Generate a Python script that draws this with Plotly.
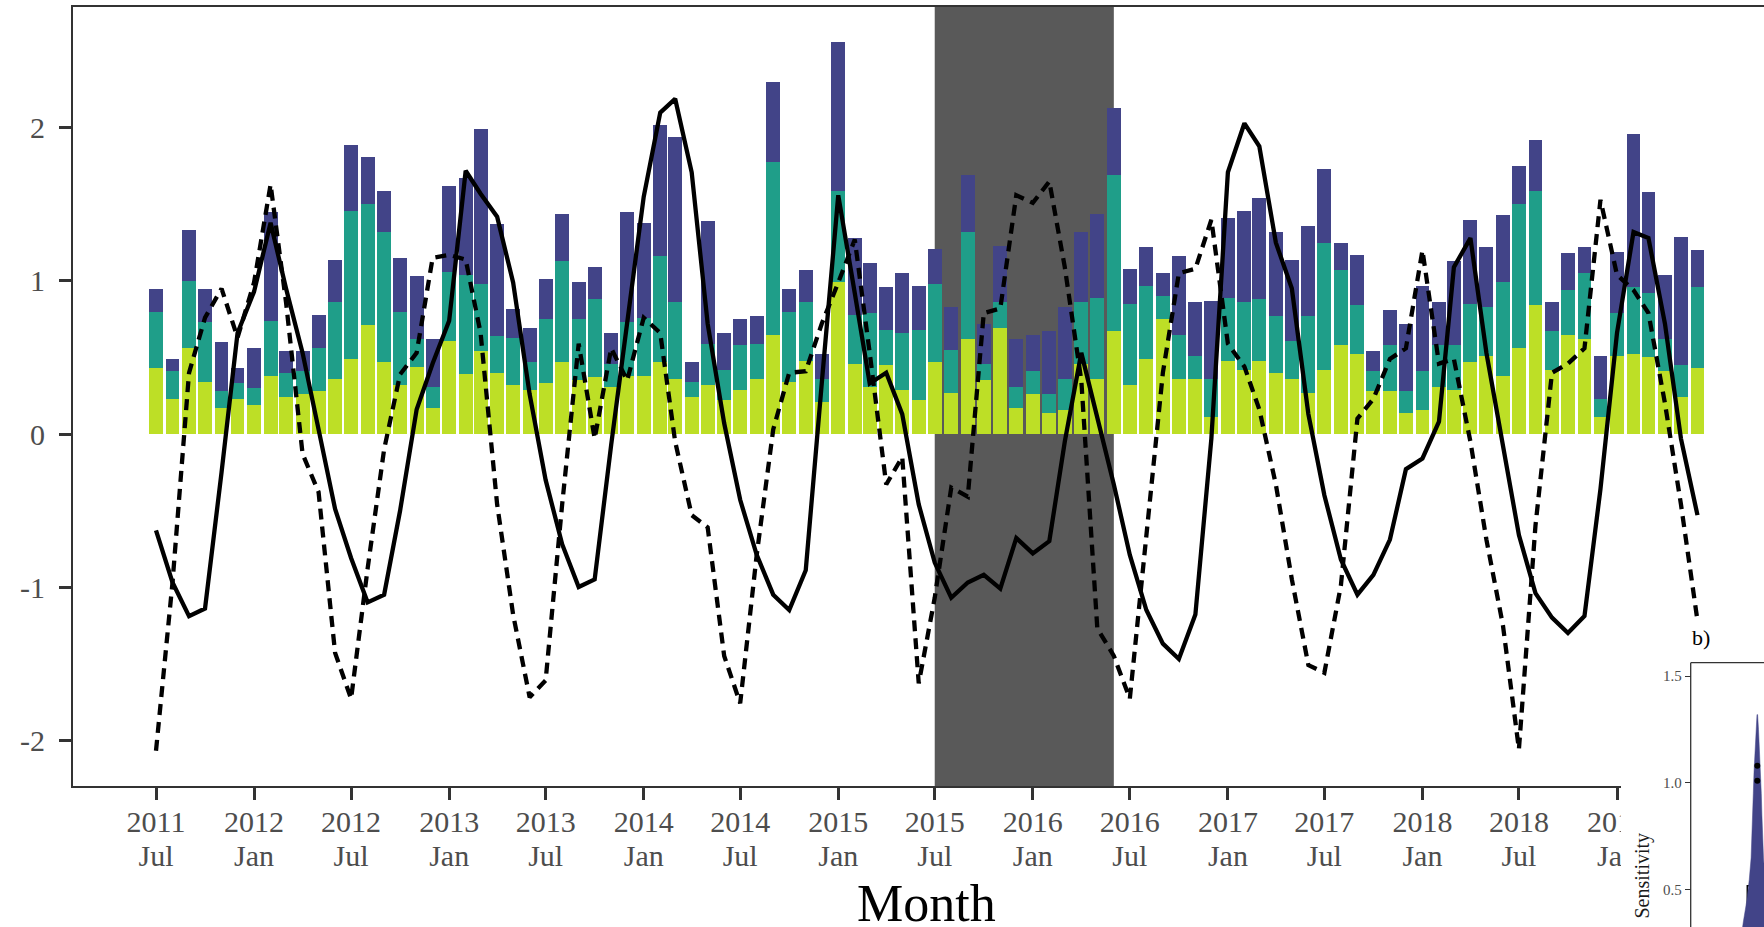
import pandas as pd
import plotly.graph_objects as go

# ---------------- data ----------------
months = pd.date_range("2011-07-01", periods=96, freq="MS")

# stacked bar segments (bottom: yellow-green, middle: teal, top: navy)
bar_low = [0.43, 0.23, 0.56, 0.34, 0.17, 0.23, 0.19, 0.38, 0.24, 0.26, 0.28, 0.36,
           0.49, 0.71, 0.47, 0.32, 0.44, 0.17, 0.61, 0.39, 0.54, 0.40, 0.32, 0.29,
           0.33, 0.47, 0.35, 0.37, 0.31, 0.38, 0.38, 0.47, 0.36, 0.24, 0.32, 0.22,
           0.29, 0.36, 0.65, 0.34, 0.48, 0.21, 0.99, 0.46, 0.31, 0.45, 0.29, 0.22,
           0.47, 0.27, 0.62, 0.35, 0.69, 0.17, 0.26, 0.14, 0.16, 0.46, 0.36, 0.67,
           0.32, 0.49, 0.75, 0.36, 0.36, 0.11, 0.48, 0.42, 0.48, 0.40, 0.36, 0.27,
           0.42, 0.58, 0.52, 0.28, 0.28, 0.14, 0.16, 0.31, 0.29, 0.47, 0.51, 0.38,
           0.56, 0.84, 0.42, 0.65, 0.62, 0.11, 0.51, 0.52, 0.50, 0.41, 0.24, 0.43]
bar_mid = [0.37, 0.18, 0.44, 0.39, 0.11, 0.10, 0.11, 0.36, 0.16, 0.15, 0.28, 0.50,
           0.97, 0.79, 0.85, 0.48, 0.18, 0.14, 0.45, 0.65, 0.44, 0.24, 0.31, 0.18,
           0.42, 0.66, 0.40, 0.51, 0.15, 0.35, 0.38, 0.69, 0.50, 0.10, 0.27, 0.20,
           0.29, 0.23, 1.13, 0.46, 0.38, 0.15, 0.60, 0.32, 0.48, 0.23, 0.37, 0.46,
           0.51, 0.28, 0.70, 0.11, 0.17, 0.14, 0.15, 0.12, 0.20, 0.40, 0.53, 1.02,
           0.53, 0.48, 0.15, 0.29, 0.15, 0.25, 0.41, 0.44, 0.40, 0.37, 0.25, 0.50,
           0.83, 0.49, 0.32, 0.13, 0.30, 0.14, 0.25, 0.27, 0.29, 0.38, 0.32, 0.61,
           0.94, 0.75, 0.25, 0.29, 0.43, 0.12, 0.28, 0.44, 0.42, 0.21, 0.21, 0.53]
bar_high = [0.15, 0.08, 0.33, 0.22, 0.32, 0.10, 0.26, 0.71, 0.14, 0.13, 0.22, 0.28,
            0.43, 0.31, 0.27, 0.35, 0.41, 0.31, 0.56, 0.63, 1.01, 0.73, 0.19, 0.22,
            0.26, 0.31, 0.24, 0.21, 0.20, 0.72, 0.62, 0.86, 1.08, 0.13, 0.80, 0.24,
            0.17, 0.18, 0.52, 0.15, 0.21, 0.16, 0.97, 0.50, 0.33, 0.28, 0.39, 0.29,
            0.23, 0.28, 0.37, 0.26, 0.37, 0.31, 0.24, 0.41, 0.47, 0.46, 0.55, 0.44,
            0.23, 0.25, 0.15, 0.51, 0.35, 0.51, 0.52, 0.60, 0.66, 0.55, 0.53, 0.59,
            0.48, 0.18, 0.33, 0.13, 0.23, 0.44, 0.56, 0.28, 0.55, 0.55, 0.39, 0.44,
            0.25, 0.33, 0.19, 0.24, 0.17, 0.28, 0.40, 1.00, 0.66, 0.42, 0.84, 0.24]

solid_line = [-0.63, -0.97, -1.19, -1.14, -0.25, 0.66, 0.93, 1.38, 0.95, 0.53, 0.03, -0.49,
              -0.81, -1.10, -1.05, -0.50, 0.16, 0.46, 0.74, 1.72, 1.57, 1.42, 0.99, 0.26,
              -0.30, -0.72, -1.00, -0.95, -0.07, 0.72, 1.55, 2.10, 2.19, 1.71, 0.72, 0.07,
              -0.43, -0.79, -1.05, -1.15, -0.89, 0.33, 1.56, 0.92, 0.33, 0.40, 0.13, -0.46,
              -0.84, -1.07, -0.97, -0.92, -1.01, -0.68, -0.78, -0.70, -0.05, 0.53, 0.10, -0.33,
              -0.79, -1.15, -1.37, -1.47, -1.18, -0.03, 1.71, 2.03, 1.88, 1.25, 0.95, 0.13,
              -0.40, -0.82, -1.05, -0.92, -0.69, -0.23, -0.16, 0.08, 1.09, 1.28, 0.53, -0.07,
              -0.66, -1.04, -1.20, -1.30, -1.19, -0.36, 0.66, 1.32, 1.28, 0.72, -0.03, -0.53]

dashed_line = [-2.07, -0.97, 0.40, 0.76, 0.95, 0.63, 0.99, 1.63, 0.86, -0.13, -0.38, -1.43,
               -1.73, -0.88, -0.10, 0.39, 0.53, 1.15, 1.17, 1.14, 0.66, -0.46, -1.18, -1.72,
               -1.61, -0.46, 0.59, -0.03, 0.56, 0.35, 0.76, 0.66, -0.05, -0.53, -0.61, -1.45,
               -1.76, -0.79, 0.03, 0.40, 0.41, 0.72, 0.99, 1.27, 0.53, -0.33, -0.15, -1.63,
               -1.07, -0.35, -0.41, 0.79, 0.82, 1.56, 1.51, 1.65, 1.09, 0.35, -1.27, -1.45,
               -1.73, -0.69, 0.40, 1.05, 1.08, 1.40, 0.59, 0.44, 0.16, -0.33, -0.95, -1.51,
               -1.56, -0.99, 0.10, 0.23, 0.49, 0.56, 1.20, 0.46, 0.49, -0.05, -0.69, -1.25,
               -2.06, -0.60, 0.40, 0.46, 0.56, 1.53, 1.04, 0.94, 0.79, 0.20, -0.46, -1.22]

tick_dates = ["2011-07-01", "2012-01-01", "2012-07-01", "2013-01-01", "2013-07-01",
              "2014-01-01", "2014-07-01", "2015-01-01", "2015-07-01", "2016-01-01",
              "2016-07-01", "2017-01-01", "2017-07-01", "2018-01-01", "2018-07-01",
              "2019-01-01"]
tick_years = ["2011", "2012", "2012", "2013", "2013", "2014", "2014", "2015", "2015",
              "2016", "2016", "2017", "2017", "2018", "2018", "2019"]
tick_months = ["Jul", "Jan", "Jul", "Jan", "Jul", "Jan", "Jul", "Jan", "Jul", "Jan",
               "Jul", "Jan", "Jul", "Jan", "Jul", "Jan"]
y_ticks = [-2, -1, 0, 1, 2]
y_tick_labels = ["-2", "-1", "0", "1", "2"]

shade_start = "2015-07-01"
shade_end = "2016-06-01"

# inset b) : violin outline (sensitivity level, half width) + box stats + outliers
violin_levels = [1.32, 1.25, 1.15, 1.05, 0.95, 0.85, 0.75, 0.65, 0.55, 0.45, 0.35, 0.30]
violin_halfwidth = [0.3, 1.2, 2.2, 3.3, 4.0, 4.6, 5.2, 6.2, 8.0, 10.5, 14.0, 15.5]
box_q1, box_median, box_q3 = 0.15, 0.25, 0.52
box_low, box_high = 0.05, 0.95
outliers = [1.01, 1.08]
inset_ticks = [0.5, 1.0, 1.5]
inset_tick_labels = ["0.5", "1.0", "1.5"]

# ---------------- styling ----------------
W, H = 1764, 927
FONT = "Liberation Serif"
C_LOW, C_MID, C_HIGH = "#BDDF26", "#1F9E89", "#424488"
AX = "#333333"
TXT = "#4D4D4D"
X_RANGE = ["2011-01-26 07:00", "2019-10-03 19:00"]

def px_x(p):
    return p / W

def px_y(p):
    return 1 - p / H

fig = go.Figure()
bar_w = 26 * 86400000
for vals, col in [(bar_low, C_LOW), (bar_mid, C_MID), (bar_high, C_HIGH)]:
    fig.add_trace(go.Bar(x=months, y=vals, marker=dict(color=col, line=dict(width=0)),
                         width=bar_w, showlegend=False, hoverinfo="skip"))

fig.add_trace(go.Scatter(x=months, y=solid_line, mode="lines",
                         line=dict(color="black", width=4.3), showlegend=False))
fig.add_trace(go.Scatter(x=months, y=dashed_line, mode="lines",
                         line=dict(color="black", width=4.3, dash="11px,7px"), showlegend=False))

# invisible trace carrying the second row of month tick labels
fig.add_trace(go.Scatter(x=[months[0]], y=[None], mode="lines", xaxis="x3", yaxis="y",
                         showlegend=False, hoverinfo="skip"))

# inset (panel b), partially visible
cx = 136.3
vx = [cx - h for h in violin_halfwidth] + [cx + h for h in violin_halfwidth[::-1]]
vy = violin_levels + violin_levels[::-1]
fig.add_trace(go.Scatter(x=vx, y=vy, mode="lines", fill="toself", fillcolor=C_HIGH,
                         line=dict(color=C_HIGH, width=0.5), xaxis="x2", yaxis="y2",
                         showlegend=False, hoverinfo="skip"))
fig.add_trace(go.Box(x=[cx], q1=[box_q1], median=[box_median], q3=[box_q3],
                     lowerfence=[box_low], upperfence=[box_high], width=20,
                     whiskerwidth=0, fillcolor="rgba(255,255,255,0.15)",
                     line=dict(color="black", width=1.5), xaxis="x2", yaxis="y2",
                     showlegend=False, hoverinfo="skip"))
fig.add_trace(go.Scatter(x=[cx] * len(outliers), y=outliers, mode="markers",
                         marker=dict(color="black", size=6), xaxis="x2", yaxis="y2",
                         showlegend=False, hoverinfo="skip"))

fig.update_layout(
    width=W, height=H, margin=dict(l=0, r=0, t=0, b=0),
    paper_bgcolor="white", plot_bgcolor="white",
    barmode="stack", bargap=0, showlegend=False,
    font=dict(family=FONT, color=TXT),
    xaxis=dict(domain=[px_x(73), 1], type="date", range=X_RANGE,
               tickvals=tick_dates, ticktext=tick_years, ticklabelstandoff=-4,
               ticks="outside", ticklen=12, tickwidth=2.5, tickcolor=AX,
               tickfont=dict(family=FONT, size=30, color=TXT),
               showline=True, linecolor=AX, linewidth=2, mirror=True,
               showgrid=False, zeroline=False),
    xaxis3=dict(overlaying="x", anchor="y", side="bottom", type="date", range=X_RANGE,
                tickvals=tick_dates, ticktext=tick_months, ticklabelstandoff=31,
                ticks="outside", ticklen=12, tickcolor="rgba(0,0,0,0)",
                tickfont=dict(family=FONT, size=30, color=TXT),
                showline=False, showgrid=False, zeroline=False),
    yaxis=dict(domain=[px_y(786), px_y(7)], range=[-2.30, 2.79],
               tickvals=y_ticks, ticktext=y_tick_labels, ticklabelstandoff=8,
               ticks="outside", ticklen=12, tickwidth=2.5, tickcolor=AX,
               tickfont=dict(family=FONT, size=30, color=TXT),
               showline=True, linecolor=AX, linewidth=2,
               showgrid=False, zeroline=False),
    xaxis2=dict(domain=[px_x(1621), 1], anchor="y2", range=[0, 143], visible=False),
    yaxis2=dict(domain=[0, px_y(624)], anchor="free", position=px_x(1690.7),
                range=[0.327, 1.743], tickvals=inset_ticks, ticktext=inset_tick_labels,
                ticks="outside", ticklen=6, tickwidth=1.3, tickcolor=AX,
                tickfont=dict(family=FONT, size=15, color=TXT),
                showline=False, showgrid=False, zeroline=False),
    shapes=[
        dict(type="rect", xref="x", yref="y domain", x0=shade_start, x1=shade_end,
             y0=0, y1=1, fillcolor="#595959", line=dict(width=0), layer="below"),
        dict(type="line", xref="paper", yref="paper", x0=px_x(1690.7), x1=px_x(1690.7),
             y0=0, y1=px_y(662.7), line=dict(color=AX, width=1.3), layer="above"),
        dict(type="line", xref="paper", yref="paper", x0=px_x(1690.7), x1=1,
             y0=px_y(662.7), y1=px_y(662.7), line=dict(color=AX, width=1.3), layer="above"),
    ],
    annotations=[
        dict(text="Month", xref="paper", yref="paper", x=px_x(926), y=px_y(903),
             xanchor="center", yanchor="middle", showarrow=False,
             font=dict(family=FONT, size=52, color="black")),
        dict(text="b)", xref="paper", yref="paper", x=px_x(1690), y=px_y(637),
             xanchor="left", yanchor="middle", showarrow=False,
             font=dict(family=FONT, size=22, color="black")),
        dict(text="Sensitivity", xref="paper", yref="paper", x=px_x(1641.5), y=px_y(876),
             xanchor="center", yanchor="middle", textangle=-90, showarrow=False,
             font=dict(family=FONT, size=20, color="#1A1A1A")),
    ],
)

fig.write_html("out.html")
